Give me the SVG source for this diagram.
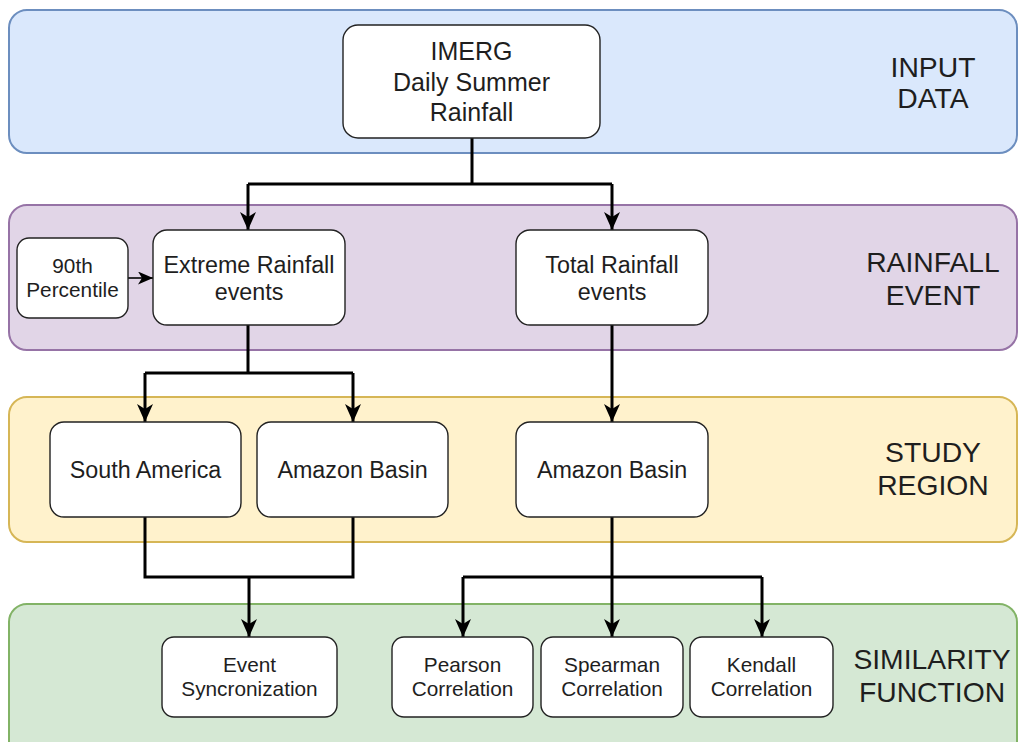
<svg xmlns="http://www.w3.org/2000/svg" width="1019" height="742" viewBox="0 0 1019 742">
<style>
.band{stroke-width:2}
.node{fill:#ffffff;stroke:#222222;stroke-width:1.4}
text{font-family:"Liberation Sans",Arial,Helvetica,sans-serif;fill:#1e1e1e;text-anchor:middle}
.big{font-size:25px}
.mid{font-size:23.3px}
.sm{font-size:20.8px}
.lbl{font-size:28.3px}
.conn{fill:none;stroke:#000000;stroke-width:3;stroke-linejoin:miter}
.thin{fill:none;stroke:#000000;stroke-width:1.6}
</style>
<defs>
<marker id="arr" markerUnits="userSpaceOnUse" markerWidth="20" markerHeight="18" refX="18" refY="8" orient="auto">
<path d="M0,0 L18,8 L0,16 L5,8 Z" fill="#000000"/>
</marker>
<marker id="arrS" markerUnits="userSpaceOnUse" markerWidth="16" markerHeight="14" refX="15" refY="6.5" orient="auto">
<path d="M0,0 L15,6.5 L0,13 L4,6.5 Z" fill="#000000"/>
</marker>
</defs>
<g id="bands">
<rect id="band-input" class="band" x="9" y="10" width="1008" height="143" rx="18" fill="#dae8fc" stroke="#6c8ebf"/>
<rect id="band-rainfall" class="band" x="9" y="205" width="1008" height="145" rx="18" fill="#e1d5e7" stroke="#9673a6"/>
<rect id="band-study" class="band" x="9" y="397" width="1008" height="145" rx="18" fill="#fff2cc" stroke="#d6b656"/>
<rect id="band-similarity" class="band" x="9" y="604" width="1008" height="160" rx="18" fill="#d5e8d4" stroke="#82b366"/>
</g>
<g id="band-labels">
<text class="lbl" x="933" y="77">INPUT</text>
<text class="lbl" x="933" y="108">DATA</text>
<text class="lbl" x="933" y="272">RAINFALL</text>
<text class="lbl" x="933" y="305">EVENT</text>
<text class="lbl" x="933" y="462">STUDY</text>
<text class="lbl" x="933" y="495">REGION</text>
<text class="lbl" x="932" y="669">SIMILARITY</text>
<text class="lbl" x="932" y="702">FUNCTION</text>
</g>
<g id="connectors">
<path class="conn" d="M472,138 V184 M248,184 H612"/>
<path class="conn" d="M248,184 V230" marker-end="url(#arr)"/>
<path class="conn" d="M612,184 V230" marker-end="url(#arr)"/>
<path class="thin" d="M128,278 H153" marker-end="url(#arrS)"/>
<path class="conn" d="M248,325 V373 M145,373 H353"/>
<path class="conn" d="M145,373 V422" marker-end="url(#arr)"/>
<path class="conn" d="M353,373 V422" marker-end="url(#arr)"/>
<path class="conn" d="M612,325 V422" marker-end="url(#arr)"/>
<path class="conn" d="M145,517 V577 H353 V517"/>
<path class="conn" d="M249,577 V637" marker-end="url(#arr)"/>
<path class="conn" d="M612,517 V577 M463,577 H762"/>
<path class="conn" d="M463,577 V637" marker-end="url(#arr)"/>
<path class="conn" d="M612,577 V637" marker-end="url(#arr)"/>
<path class="conn" d="M762,577 V637" marker-end="url(#arr)"/>
</g>
<g id="node-imerg">
<rect class="node" x="343" y="25" width="257" height="113" rx="15"/>
<text class="big" x="471.5" y="59.5">IMERG</text>
<text class="big" x="471.5" y="90.5">Daily Summer</text>
<text class="big" x="471.5" y="121">Rainfall</text>
</g>
<g id="node-percentile">
<rect class="node" x="17" y="238" width="111" height="80" rx="12"/>
<text class="sm" x="72.5" y="272.5">90th</text>
<text class="sm" x="72.5" y="297">Percentile</text>
</g>
<g id="node-extreme">
<rect class="node" x="153" y="230" width="192" height="95" rx="14"/>
<text class="mid" x="249" y="273">Extreme Rainfall</text>
<text class="mid" x="249" y="300">events</text>
</g>
<g id="node-total">
<rect class="node" x="516" y="230" width="192" height="95" rx="14"/>
<text class="mid" x="612" y="273">Total Rainfall</text>
<text class="mid" x="612" y="300">events</text>
</g>
<g id="node-south-america">
<rect class="node" x="50" y="422" width="191" height="95" rx="14"/>
<text class="mid" x="145.5" y="478">South America</text>
</g>
<g id="node-amazon-1">
<rect class="node" x="257" y="422" width="191" height="95" rx="14"/>
<text class="mid" x="352.5" y="478">Amazon Basin</text>
</g>
<g id="node-amazon-2">
<rect class="node" x="516" y="422" width="192" height="95" rx="14"/>
<text class="mid" x="612" y="478">Amazon Basin</text>
</g>
<g id="node-event-sync">
<rect class="node" x="162" y="637" width="175" height="80" rx="12"/>
<text class="sm" x="249.5" y="672">Event</text>
<text class="sm" x="249.5" y="696">Syncronization</text>
</g>
<g id="node-pearson">
<rect class="node" x="392" y="637" width="141" height="80" rx="12"/>
<text class="sm" x="462.5" y="672">Pearson</text>
<text class="sm" x="462.5" y="696">Correlation</text>
</g>
<g id="node-spearman">
<rect class="node" x="541" y="637" width="142" height="80" rx="12"/>
<text class="sm" x="612" y="672">Spearman</text>
<text class="sm" x="612" y="696">Correlation</text>
</g>
<g id="node-kendall">
<rect class="node" x="690" y="637" width="143" height="80" rx="12"/>
<text class="sm" x="761.5" y="672">Kendall</text>
<text class="sm" x="761.5" y="696">Correlation</text>
</g>
</svg>
